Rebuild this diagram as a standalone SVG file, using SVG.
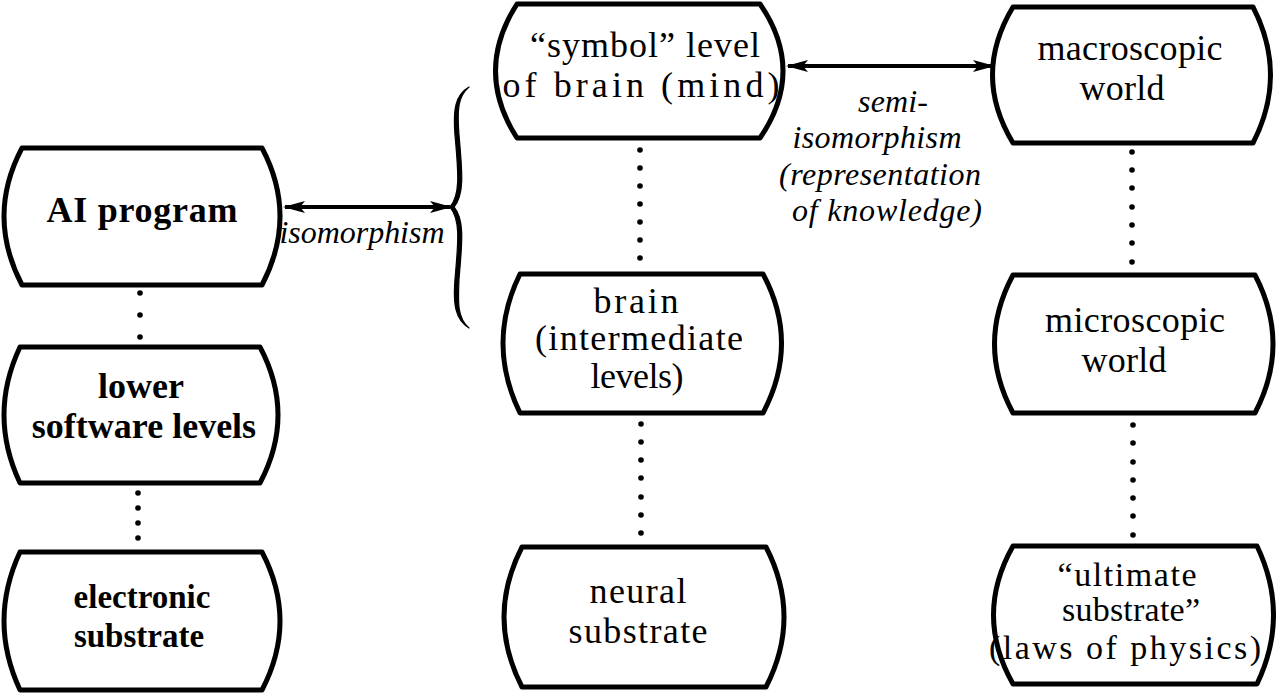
<svg xmlns="http://www.w3.org/2000/svg" width="1276" height="697" viewBox="0 0 1276 697">
<defs>
<style>
.box{fill:#fff;stroke:#000;stroke-width:5;stroke-linejoin:round}
.t{font-family:"Liberation Serif","Times New Roman",serif;font-size:36px;fill:#000;text-anchor:middle}
.b{font-weight:bold}
.s{font-size:33px}
.u{font-size:34px}
.i{font-family:"Liberation Serif","Times New Roman",serif;font-size:32px;font-style:italic;fill:#000;text-anchor:middle}
.arr{stroke:#000;stroke-width:4;fill:none}
.dot{fill:#000}
</style>
<marker id="ah" viewBox="0 0 22 14" refX="20" refY="7" markerWidth="22" markerHeight="14" markerUnits="userSpaceOnUse" orient="auto-start-reverse">
<path d="M0,1 L22,7 L0,13 L5,7 Z" fill="#000"/>
</marker>
</defs>

<g id="connectors">
<line class="arr" x1="285" y1="207" x2="450" y2="207" marker-start="url(#ah)" marker-end="url(#ah)"/>
<line class="arr" x1="788" y1="66" x2="993" y2="66" marker-start="url(#ah)" marker-end="url(#ah)"/>
<path d="M469,87 C455,95 453,110 455,135 C458,170 461,194 450,207 C461,220 458,244 455,279 C453,304 455,319 469,328 C457,318 458,302 459,279 C462,244 465,220 454,207 C465,194 462,170 459,135 C457,110 458,96 469,87 Z" fill="#000" stroke="#000" stroke-width="1.2" stroke-linejoin="round"/>
<g class="dot">
<circle cx="140" cy="293" r="2.8"/><circle cx="140" cy="315" r="2.8"/><circle cx="140" cy="337" r="2.8"/>
<circle cx="138" cy="493" r="2.8"/><circle cx="138" cy="508" r="2.8"/><circle cx="138" cy="523" r="2.8"/><circle cx="138" cy="538" r="2.8"/>
<circle cx="640" cy="150" r="2.8"/><circle cx="640" cy="168" r="2.8"/><circle cx="640" cy="186" r="2.8"/><circle cx="640" cy="204" r="2.8"/><circle cx="640" cy="222" r="2.8"/><circle cx="640" cy="240" r="2.8"/><circle cx="640" cy="258" r="2.8"/>
<circle cx="641" cy="424" r="2.8"/><circle cx="641" cy="442" r="2.8"/><circle cx="641" cy="460" r="2.8"/><circle cx="641" cy="478" r="2.8"/><circle cx="641" cy="497" r="2.8"/><circle cx="641" cy="515" r="2.8"/><circle cx="641" cy="533" r="2.8"/>
<circle cx="1132" cy="152" r="2.8"/><circle cx="1132" cy="170" r="2.8"/><circle cx="1132" cy="188" r="2.8"/><circle cx="1132" cy="207" r="2.8"/><circle cx="1132" cy="225" r="2.8"/><circle cx="1132" cy="243" r="2.8"/><circle cx="1132" cy="262" r="2.8"/>
<circle cx="1133" cy="425" r="2.8"/><circle cx="1133" cy="443" r="2.8"/><circle cx="1133" cy="462" r="2.8"/><circle cx="1133" cy="480" r="2.8"/><circle cx="1133" cy="498" r="2.8"/><circle cx="1133" cy="516" r="2.8"/><circle cx="1133" cy="535" r="2.8"/>
</g>
<text class="i" x="362" y="243" textLength="165">isomorphism</text>
<text class="i" x="893" y="112" textLength="70">semi-</text>
<text class="i" x="877" y="148" textLength="169">isomorphism</text>
<text class="i" x="880" y="185" textLength="202">(representation</text>
<text class="i" x="887" y="221" textLength="190">of knowledge)</text>
</g>

<g id="ai-program">
<path class="box" d="M22,148 L262,148 Q298,216 262,285 L22,285 Q-14,216 22,148 Z"/>
<text class="t b" x="142" y="222" textLength="191">AI program</text>
</g>
<g id="lower-software">
<path class="box" d="M20,347 L260,347 Q296,415 260,483 L20,483 Q-12,415 20,347 Z"/>
<text class="t b" x="141" y="398">lower</text>
<text class="t b" x="144" y="438">software levels</text>
</g>
<g id="electronic-substrate">
<path class="box" d="M20,552 L262,552 Q298,621 262,690 L20,690 Q-12,621 20,552 Z"/>
<text class="t b s" x="142" y="608">electronic</text>
<text class="t b s" x="139" y="647">substrate</text>
</g>

<g id="symbol-level">
<path class="box" d="M517,4 L760,4 Q806,71 760,138 L517,138 Q474,71 517,4 Z"/>
<text class="t" x="645" y="57" textLength="230">“symbol” level</text>
<text class="t" x="641" y="97" textLength="277">of brain (mind)</text>
</g>
<g id="brain-intermediate">
<path class="box" d="M520,274 L763,274 Q800,343 763,413 L520,413 Q486,343 520,274 Z"/>
<text class="t" x="636" y="313" textLength="85">brain</text>
<text class="t" x="639" y="350" textLength="208">(intermediate</text>
<text class="t" x="637" y="388" textLength="93">levels)</text>
</g>
<g id="neural-substrate">
<path class="box" d="M522,547 L766,547 Q802,617 766,687 L522,687 Q486,617 522,547 Z"/>
<text class="t" x="638" y="603" textLength="97">neural</text>
<text class="t" x="638" y="643" textLength="139">substrate</text>
</g>

<g id="macroscopic-world">
<path class="box" d="M1013,7 L1253,7 Q1288,75 1253,143 L1013,143 Q972,75 1013,7 Z"/>
<text class="t" x="1130" y="60" textLength="185">macroscopic</text>
<text class="t" x="1122" y="100" textLength="85">world</text>
</g>
<g id="microscopic-world">
<path class="box" d="M1013,275 L1255,275 Q1291,344 1255,413 L1013,413 Q976,344 1013,275 Z"/>
<text class="t" x="1135" y="332" textLength="180">microscopic</text>
<text class="t" x="1124" y="372" textLength="85">world</text>
</g>
<g id="ultimate-substrate">
<path class="box" d="M1013,546 L1257,546 Q1290,615 1257,684 L1013,684 Q974,615 1013,546 Z"/>
<text class="t u" x="1127" y="586" textLength="139">“ultimate</text>
<text class="t u" x="1131" y="621" textLength="138">substrate”</text>
<text class="t u" x="1125" y="659" textLength="272">(laws of physics)</text>
</g>
</svg>
